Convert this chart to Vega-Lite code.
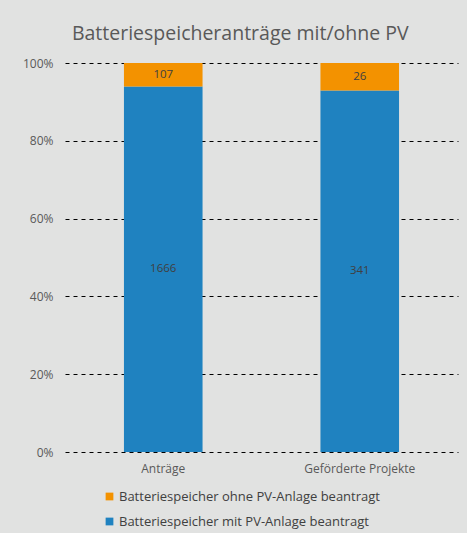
{
  "$schema": "https://vega.github.io/schema/vega-lite/v6.json",
  "background": "#e1e2e1",
  "padding": {"left": 22, "top": 23, "right": 9, "bottom": 10},
  "width": 393,
  "height": 389,
  "title": {
    "text": "Batteriespeicheranträge mit/ohne PV",
    "font": "Open Sans",
    "fontSize": 19.5,
    "fontWeight": "normal",
    "color": "#595959",
    "offset": 13,
    "frame": "bounds"
  },
  "data": {
    "values": [
      {"kategorie": "Anträge", "serie": "Batteriespeicher mit PV-Anlage beantragt", "anzahl": 1666, "rang": 1},
      {"kategorie": "Anträge", "serie": "Batteriespeicher ohne PV-Anlage beantragt", "anzahl": 107, "rang": 2},
      {"kategorie": "Geförderte Projekte", "serie": "Batteriespeicher mit PV-Anlage beantragt", "anzahl": 341, "rang": 1},
      {"kategorie": "Geförderte Projekte", "serie": "Batteriespeicher ohne PV-Anlage beantragt", "anzahl": 26, "rang": 2}
    ]
  },
  "transform": [
    {"stack": "anzahl", "groupby": ["kategorie"], "sort": [{"field": "rang"}], "offset": "normalize", "as": ["y0", "y1"]},
    {"calculate": "(datum.y0 + datum.y1) / 2", "as": "ymid"}
  ],
  "encoding": {
    "x": {
      "field": "kategorie",
      "type": "nominal",
      "sort": null,
      "scale": {"paddingInner": 0.6, "paddingOuter": 0.3},
      "axis": {"title": null, "labelAngle": 0, "domain": false, "ticks": false, "labelFont": "Open Sans", "labelFontSize": 12, "labelColor": "#595959", "labelPadding": 11}
    }
  },
  "layer": [
    {
      "mark": {"type": "bar"},
      "encoding": {
        "y": {
          "field": "y0",
          "type": "quantitative",
          "scale": {"domain": [0, 1]},
          "axis": {"title": null, "format": ".0%", "values": [0, 0.2, 0.4, 0.6, 0.8, 1], "domain": false, "ticks": false, "labelPadding": 12, "labelFont": "Open Sans", "labelFontSize": 12, "labelColor": "#595959", "grid": true, "gridColor": "#000000", "gridDash": [4, 4], "gridWidth": 1, "gridOpacity": 1}
        },
        "y2": {"field": "y1"},
        "color": {
          "field": "serie",
          "type": "nominal",
          "scale": {"domain": ["Batteriespeicher ohne PV-Anlage beantragt", "Batteriespeicher mit PV-Anlage beantragt"], "range": ["#f39200", "#1f82c0"]},
          "legend": {"title": null, "orient": "none", "legendX": 38, "legendY": 427, "direction": "vertical", "symbolType": "square", "symbolSize": 60, "labelFont": "Open Sans", "labelFontSize": 13, "labelColor": "#404040", "labelLimit": 400, "labelOffset": 3, "rowPadding": 11}
        }
      }
    },
    {
      "mark": {"type": "text", "font": "Open Sans", "fontSize": 11.5, "color": "#404040"},
      "encoding": {
        "y": {"field": "ymid", "type": "quantitative"},
        "text": {"field": "anzahl", "type": "quantitative"}
      }
    }
  ],
  "config": {"view": {"stroke": null}}
}
